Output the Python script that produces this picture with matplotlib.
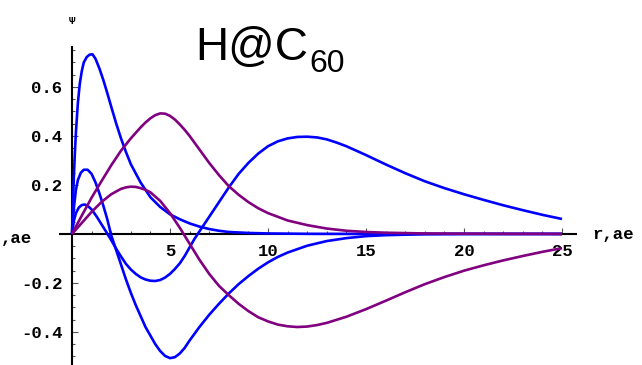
import numpy as np
import matplotlib
matplotlib.use("Agg")
from matplotlib import pyplot as plt
from matplotlib.ticker import FixedLocator

# radial wavefunctions of H inside C60, r in atomic units
r_1s = [0, 0.05, 0.1, 0.15, 0.2, 0.3, 0.4, 0.5, 0.6, 0.75, 0.9, 1.05, 1.2, 1.4, 1.6, 1.8,
        2.0, 2.25, 2.5, 2.75, 3.0, 3.5, 4.0, 4.5, 5.0, 5.5, 6.0, 6.5, 7.0, 7.5, 8, 9, 10, 12,
        15, 20, 25]
psi_1s = [0, 0.13, 0.245, 0.335, 0.415, 0.535, 0.615, 0.665, 0.70, 0.722, 0.732, 0.733,
          0.715, 0.675, 0.628, 0.575, 0.52, 0.452, 0.39, 0.335, 0.285, 0.21, 0.15, 0.11, 0.08,
          0.06, 0.043, 0.03, 0.02, 0.013, 0.008, 0.004, 0.002, 0.0005, 0, 0, 0]

r_2s = [0, 0.1, 0.2, 0.3, 0.45, 0.6, 0.8, 1.0, 1.2, 1.4, 1.6, 1.8, 2.0, 2.25, 2.5, 2.75,
        3.0, 3.25, 3.5, 3.75, 4.0, 4.25, 4.5, 4.75, 5.0, 5.25, 5.5, 5.75, 6.0, 6.5, 7.0, 7.5,
        8.0, 8.5, 9.0, 9.5, 10.0, 10.5, 11.0, 12.0, 13, 14, 15, 16, 18, 20, 25]
psi_2s = [0, 0.11, 0.18, 0.22, 0.25, 0.262, 0.262, 0.245, 0.21, 0.165, 0.115, 0.06, -0.005,
          -0.065, -0.125, -0.185, -0.24, -0.29, -0.335, -0.38, -0.415, -0.45, -0.478,
          -0.498, -0.507, -0.503, -0.488, -0.465, -0.435, -0.38, -0.33, -0.285, -0.243,
          -0.205, -0.172, -0.142, -0.116, -0.094, -0.076, -0.048, -0.029, -0.017, -0.009,
          -0.005, -0.001, 0, 0]

r_3s = [0, 0.1, 0.2, 0.35, 0.5, 0.65, 0.8, 1.0, 1.25, 1.5, 1.75, 2.0, 2.25, 2.5, 2.75, 3.0,
        3.25, 3.5, 3.75, 4.0, 4.25, 4.5, 4.75, 5.0, 5.25, 5.5, 5.75, 6.0, 6.25, 6.5, 7.0,
        7.5, 8.0, 8.5, 9.0, 9.5, 10.0, 10.5, 11.0, 11.5, 12.0, 12.5, 13.0, 13.5, 14.0, 15,
        16, 17, 18, 19, 20, 21, 22, 23, 24, 25]
psi_3s = [0, 0.055, 0.085, 0.108, 0.118, 0.12, 0.115, 0.1, 0.072, 0.04, 0.008, -0.025,
          -0.06, -0.092, -0.122, -0.145, -0.163, -0.177, -0.186, -0.191, -0.192, -0.188,
          -0.178, -0.163, -0.143, -0.12, -0.09, -0.055, -0.02, 0.01, 0.07, 0.13, 0.19, 0.245,
          0.29, 0.328, 0.358, 0.378, 0.39, 0.396, 0.397, 0.394, 0.386, 0.373, 0.358, 0.322,
          0.284, 0.248, 0.215, 0.187, 0.162, 0.139, 0.117, 0.097, 0.078, 0.061]

r_p1 = [0, 0.5, 1.0, 1.5, 2.0, 2.5, 3.0, 3.5, 3.75, 4.0, 4.25, 4.5, 4.75, 5.0, 5.25, 5.5,
        5.75, 6.0, 6.5, 7.0, 7.5, 8.0, 8.5, 9.0, 9.5, 10.0, 11, 12, 13, 14, 15, 16, 18, 20,
        25]
psi_p1 = [0, 0.075, 0.148, 0.215, 0.28, 0.34, 0.39, 0.435, 0.455, 0.472, 0.485, 0.492,
          0.491, 0.482, 0.467, 0.447, 0.425, 0.4, 0.345, 0.29, 0.24, 0.195, 0.16, 0.13, 0.105,
          0.085, 0.055, 0.036, 0.022, 0.013, 0.008, 0.005, 0.002, 0.001, 0]

r_p2 = [0, 0.5, 1.0, 1.5, 2.0, 2.5, 2.75, 3.0, 3.25, 3.5, 3.75, 4.0, 4.5, 5.0, 5.5, 6.0, 6.5,
        7.0, 7.5, 8.0, 8.5, 9.0, 9.5, 10.0, 10.5, 11.0, 11.5, 12.0, 12.5, 13.0, 14.0, 15.0,
        16.0, 17.0, 18.0, 19.0, 20.0, 21.0, 22.0, 23.0, 24.0, 25.0]
psi_p2 = [0, 0.045, 0.09, 0.13, 0.162, 0.184, 0.19, 0.193, 0.192, 0.187, 0.18, 0.17, 0.135,
          0.085, 0.025, -0.04, -0.105, -0.163, -0.212, -0.25, -0.285, -0.315, -0.34, -0.357,
          -0.37, -0.377, -0.38, -0.378, -0.372, -0.363, -0.338, -0.307, -0.273, -0.238,
          -0.205, -0.176, -0.15, -0.128, -0.108, -0.09, -0.073, -0.058]

x_ticks = [5, 10, 15, 20, 25]
x_ticklabels = ["5", "10", "15", "20", "25"]
y_ticks = [-0.4, -0.2, 0.2, 0.4, 0.6]
y_ticklabels = ["-0.4", "-0.2", "0.2", "0.4", "0.6"]

BLUE = "#0000ff"
PURPLE = "#800080"
MONO = ["Liberation Mono", "DejaVu Sans Mono"]

fig = plt.figure(figsize=(6.42, 3.65), dpi=100)
ax = fig.add_axes([0, 0, 1, 1])
ax.set_xlim(-3.673, 29.08)
ax.set_ylim(-0.535, 0.955)

for r, psi in [(r_1s, psi_1s), (r_2s, psi_2s), (r_3s, psi_3s)]:
    ax.plot(r, psi, c=BLUE, lw=1.9, zorder=3, solid_capstyle="butt")
for r, psi in [(r_p1, psi_p1), (r_p2, psi_p2)]:
    ax.plot(r, psi, c=PURPLE, lw=1.9, zorder=3, solid_capstyle="butt")

# axes crossing at the origin
for side in ["top", "right"]:
    ax.spines[side].set_visible(False)
ax.spines["left"].set_position(("data", 0))
ax.spines["bottom"].set_position(("data", 0))
ax.spines["left"].set_bounds(-0.6, 0.763)
ax.spines["bottom"].set_bounds(-0.6, 25.7)
ax.spines["left"].set_linewidth(1.5)
ax.spines["bottom"].set_linewidth(1.5)

ax.xaxis.set_major_locator(FixedLocator(x_ticks))
ax.set_xticklabels(x_ticklabels)
ax.yaxis.set_major_locator(FixedLocator(y_ticks))
ax.set_yticklabels(y_ticklabels)
ax.xaxis.set_minor_locator(FixedLocator(np.arange(1, 26)))
ax.yaxis.set_minor_locator(FixedLocator(np.arange(-0.5, 0.76, 0.05)))

ax.tick_params(which="both", direction="in", color="#555555", width=0.8)
ax.tick_params(which="major", length=4)
ax.tick_params(which="minor", length=2.2)
ax.tick_params(axis="x", pad=7)
ax.tick_params(axis="y", pad=7)
for lab in ax.get_xticklabels() + ax.get_yticklabels():
    lab.set_family(MONO)
    lab.set_fontweight("bold")
    lab.set_fontsize(12.5)

W, H = 642, 365
fig.text(592 / W, (H - 239.5) / H, "r,ae", family=MONO, fontweight="bold",
         fontsize=12.5, va="baseline", ha="left")
fig.text(0.001, (H - 243) / H, ",ae", family=MONO, fontweight="bold",
         fontsize=12.5, va="baseline", ha="left")
fig.text(72 / W, (H - 21) / H, "Ψ", family=MONO, fontweight="bold",
         fontsize=8, va="center", ha="center")

fig.text(195 / W, (H - 60) / H, "H@C", family="Liberation Sans", fontsize=33,
         va="baseline", ha="left")
fig.text(309 / W, (H - 72) / H, "60", family="Liberation Sans", fontsize=23,
         va="baseline", ha="left")

fig.savefig("out.png", dpi=100)
